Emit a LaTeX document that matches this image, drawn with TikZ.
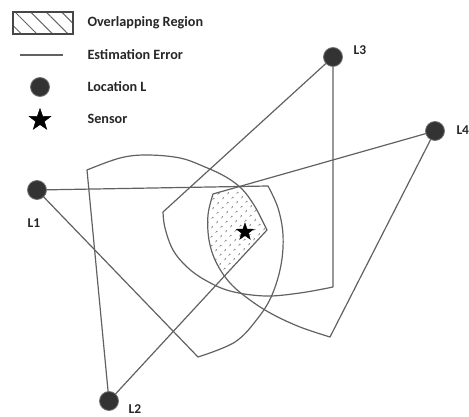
\documentclass[tikz,border=0pt]{standalone}
\usepackage{fontspec}
\setmainfont{Carlito}
\usetikzlibrary{shapes.geometric,patterns.meta}
\begin{document}
\begin{tikzpicture}[x=1pt,y=-1pt,
  edge/.style={draw=black!62, line width=1.2pt, line join=round},
  loc/.style={circle, fill=black!80, draw=black!55, line width=0.8pt, minimum size=19pt, inner sep=0pt},
  lbl/.style={font=\bfseries\fontsize{13.5}{15}\selectfont, text=black!85},
  legtext/.style={font=\bfseries\fontsize{14.2}{16}\selectfont, anchor=west, text=black!85},
  starmark/.style={star, star points=5, star point ratio=2.5, fill=black, draw=black, inner sep=0pt}
]
\useasboundingbox (0,0) rectangle (469,417);

% centres of the locations
\coordinate (c1) at (37,190);
\coordinate (c2) at (109,401);
\coordinate (c3) at (333,57);
\coordinate (c4) at (435,131);

% ends of the sectors
\coordinate (a1) at (268,186);
\coordinate (b1) at (198,357);
\coordinate (a2) at (87,170);
\coordinate (b2) at (267,230);
\coordinate (a3) at (163,212);
\coordinate (b3) at (333,287);
\coordinate (a4) at (213,194);
\coordinate (b4) at (330,337);

% overlapping region
\begin{scope}
  \clip (c2) -- plot[smooth,tension=0.6] coordinates {(a2) (120,158) (147,155) (180,158) (205,167) (226,177) (242,189) (254,205) (262,220) (b2)} -- cycle;
  \clip (c4) -- plot[smooth,tension=0.6] coordinates {(a4) (208,215) (209,240) (216,262) (230,283) (250,300) (272,314) (300,327) (b4)} -- cycle;
  \fill[pattern={Dots[distance=6.5pt, angle=45, radius=0.9pt]}, pattern color=black!75] (150,140) rectangle (320,320);
\end{scope}

% sectors
\draw[edge] (c1) -- (a1) -- plot[smooth,tension=0.6] coordinates {(a1) (278,208) (283,235) (281,265) (272,295) (258,318) (235,342) (b1)} -- (c1);
\draw[edge] (c2) -- (a2) -- plot[smooth,tension=0.6] coordinates {(a2) (120,158) (147,155) (180,158) (205,167) (226,177) (242,189) (254,205) (262,220) (b2)} -- (c2);
\draw[edge] (c3) -- (a3) -- plot[smooth,tension=0.6] coordinates {(a3) (165,228) (173,250) (187,267) (205,280) (230,291) (265,296) (300,293) (b3)} -- (c3);
\draw[edge] (c4) -- (a4) -- plot[smooth,tension=0.6] coordinates {(a4) (208,215) (209,240) (216,262) (230,283) (250,300) (272,314) (300,327) (b4)} -- (c4);

% locations
\node[loc] (L1) at (c1) {};
\node[loc] (L2) at (c2) {};
\node[loc] (L3) at (c3) {};
\node[loc] (L4) at (c4) {};
\node[lbl] (t1) at (34,223) {L1};
\node[lbl] (t2) at (135,409) {L2};
\node[lbl] (t3) at (360,50) {L3};
\node[lbl, anchor=west] (t4) at (453,130) {L4};

% sensor
\node[starmark, minimum size=18pt] (S) at (245,232) {};

% legend
\node[draw=black!72, line width=1.3pt, minimum width=60pt, minimum height=22pt, inner sep=0pt,
  pattern={Lines[angle=-45, distance=11pt, line width=1pt]}, pattern color=black!60] (hatch) at (43,23) {};
\coordinate (e1) at (20,55);
\coordinate (e2) at (63,55);
\draw[edge] (e1) -- (e2);
\node[loc] (legloc) at (40,87) {};
\node[starmark, minimum size=23pt] (legstar) at (40,120) {};
\node[legtext] (o1) at (84,23) {Overlapping Region};
\node[legtext] (o2) at (84,55) {Estimation Error};
\node[legtext] (o3) at (84,87) {Location L};
\node[legtext] (o4) at (84,119) {Sensor};
\end{tikzpicture}
\end{document}
